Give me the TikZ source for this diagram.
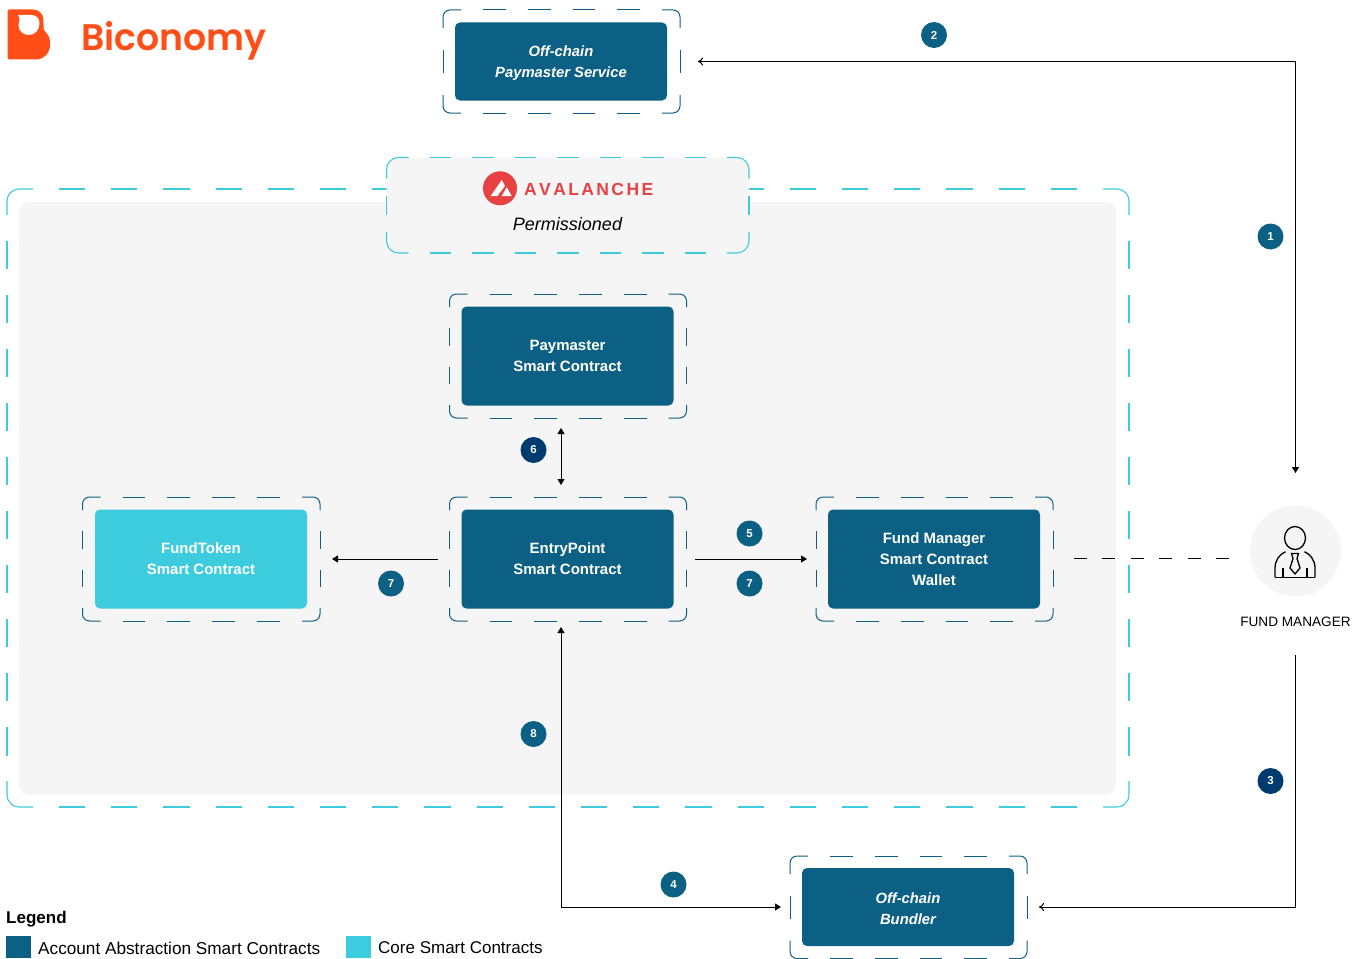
\documentclass[tikz,border=0pt]{standalone}
\usepackage{fontspec}
\setmainfont{Liberation Sans}
\newfontfamily\logofont{Poppins}[BoldFont=Poppins SemiBold]
\usetikzlibrary{arrows.meta}
\definecolor{deep}{HTML}{0C6083}
\definecolor{cyanbox}{HTML}{3DCCDD}
\definecolor{navy}{HTML}{003B6F}
\definecolor{panel}{HTML}{F5F5F5}
\definecolor{bico}{HTML}{FF4E17}
\definecolor{ava}{HTML}{E84142}
\tikzset{
 x=1pt,y=-1pt,
 box/.style={rounded corners=5pt,draw=none,text=white,align=center,font=\fontsize{15pt}{21pt}\selectfont\bfseries,inner sep=0},
 ibox/.style={box,font=\fontsize{14.8pt}{21pt}\selectfont\bfseries\itshape},
 conn/.style={black,line width=1pt,-{Triangle[length=6pt,width=7pt]}},
 conn2/.style={black,line width=1pt,{Triangle[length=6pt,width=7pt]}-{Triangle[length=6pt,width=7pt]}},
 openconn/.style={black,line width=1pt,-{To[length=5pt,width=8pt]}},
 badge/.style={circle,minimum size=26pt,inner sep=0,text=white,font=\fontsize{11.5pt}{12pt}\selectfont\bfseries},
 lbl/.style={font=\fontsize{17pt}{18pt}\selectfont,anchor=west,inner sep=0},
}
\newcommand{\dfside}[7]{%
 \pgfmathsetmacro\dfL{veclen(#3-#1,#4-#2)}%
 \pgfmathsetmacro\dfux{(#3-#1)/\dfL}%
 \pgfmathsetmacro\dfuy{(#4-#2)/\dfL}%
 \pgfmathsetmacro\dfD{(\dfL-2*#5-(#6+1)*#7)/#6}%
 \draw[dash pattern=on \dfD pt off #7 pt] ({#1+(#5+#7)*\dfux},{#2+(#5+#7)*\dfuy}) -- ({#3-(#5+#7)*\dfux},{#4-(#5+#7)*\dfuy});}
\def\setp#1#2#3#4#5#6#7{\def\frr{#1}\def\fcH{#2}\def\fnH{#3}\def\fgH{#4}\def\fcV{#5}\def\fnV{#6}\def\fgV{#7}}
\newcommand{\dframe}[4]{%
 \draw[rounded corners=\frr pt] (#1,#2+\fcV) -- (#1,#2) -- (#1+\fcH,#2);
 \draw[rounded corners=\frr pt] (#3-\fcH,#2) -- (#3,#2) -- (#3,#2+\fcV);
 \draw[rounded corners=\frr pt] (#3,#4-\fcV) -- (#3,#4) -- (#3-\fcH,#4);
 \draw[rounded corners=\frr pt] (#1+\fcH,#4) -- (#1,#4) -- (#1,#4-\fcV);
 \dfside{#1}{#2}{#3}{#2}{\fcH}{\fnH}{\fgH}
 \dfside{#1}{#4}{#3}{#4}{\fcH}{\fnH}{\fgH}
 \dfside{#1}{#2}{#1}{#4}{\fcV}{\fnV}{\fgV}
 \dfside{#3}{#2}{#3}{#4}{\fcV}{\fnV}{\fgV}}
\begin{document}
\begin{tikzpicture}
\useasboundingbox (0,0) rectangle (1364,958);
% main panel
\fill[panel,rounded corners=10pt] (19,202) rectangle (1116,795);
\begin{scope}[draw=cyanbox,line width=1.1pt]
\setp{12}{26}{20}{26}{26}{10}{25.5}
\dframe{7}{189}{1129}{807}
\fill[panel,rounded corners=12pt] (386.5,157.5) rectangle (749,253);
\setp{12}{22}{7}{21}{21}{1}{17}
\dframe{386.5}{157.5}{749}{253}
\end{scope}
% dashed frames
\begin{scope}[draw=deep,line width=1pt]
\setp{7}{18}{4}{22}{18}{1}{22}
\dframe{443}{10}{680}{113}
\dframe{790}{856}{1027}{958.5}
\setp{7}{18}{4}{22}{13}{2}{21}
\dframe{449.5}{294}{686.5}{418}
\dframe{82.5}{497}{320}{621}
\dframe{449.5}{497}{686.5}{621}
\dframe{816}{497}{1053}{621}
\end{scope}
% boxes
\node[ibox,fill=deep,minimum width=212pt,minimum height=78pt] (svc) at (561,61.5) {\rule{0pt}{14pt}Off-chain\\Paymaster Service};
\node[box,fill=deep,minimum width=212pt,minimum height=99pt] (pm) at (567.5,356) {Paymaster\hspace{4pt}\\Smart Contract};
\node[box,fill=cyanbox,minimum width=212pt,minimum height=99pt] (ft) at (201,559) {FundToken\\Smart Contract};
\node[box,fill=deep,minimum width=212pt,minimum height=99pt] (ep) at (567.5,559) {EntryPoint\hspace{4pt}\\Smart Contract};
\node[box,fill=deep,minimum width=212pt,minimum height=99pt] (fm) at (934,559) {Fund Manager\hspace{4pt}\\Smart Contract\hspace{4pt}\\Wallet};
\node[ibox,fill=deep,minimum width=212pt,minimum height=78pt] (bd) at (908,907) {\rule{0pt}{14pt}Off-chain\\Bundler};
% Fund manager
\node[circle,fill=panel,minimum size=91pt,inner sep=0] (mgr) at (1295.5,551) {};
\node[font=\fontsize{13.6pt}{14pt}\selectfont,inner sep=0] (mgrl) at (1295.5,622) {FUND MANAGER};
\begin{scope}[shift={(1295,551)},line width=1.3pt,black]
\draw (0,-13) ellipse (10.5pt and 11.5pt);
\draw (-20,26.3) -- (-20,17) .. controls (-20,9) and (-15,3) .. (-9.5,0.7);
\draw (20,26.3) -- (20,17) .. controls (20,9) and (15,3) .. (9.5,0.7);
\draw (-20,26.3) -- (20,26.3);
\draw (-12,26.3) -- (-12,17) (12,26.3) -- (12,17);
\draw[line join=miter] (-3.5,2.5) -- (3.5,2.5) -- (2,7.5) -- (5,17) -- (0,23) -- (-5,17) -- (-2,7.5) -- cycle;
\end{scope}
% connectors
\coordinate (p2s) at (1295.5,61.5);
\coordinate (svcr) at (698,61.5);
\coordinate (mgrt) at (1295.5,473);
\coordinate (mgrb) at (1295.5,655);
\coordinate (bdr) at (1039,907);
\coordinate (bdl) at (781,907);
\coordinate (corner3) at (1295.5,907);
\coordinate (corner4) at (561,907);
\coordinate (ept) at (561,428);
\coordinate (epm) at (561,485);
\coordinate (epb) at (561,627);
\coordinate (ftr) at (332,559);
\coordinate (epl) at (438,559);
\coordinate (epr) at (695,559);
\coordinate (fml) at (807,559);
\coordinate (fmr) at (1074,558);
\coordinate (mgrl2) at (1229.5,558);
\draw[openconn] (p2s) -- (svcr);
\draw[conn] (p2s) -- (mgrt);
\draw[openconn] (mgrb) -- (corner3) -- (bdr);
\draw[conn2] (epb) -- (corner4) -- (bdl);
\draw[conn2] (ept) -- (epm);
\draw[conn] (epl) -- (ftr);
\draw[conn] (epr) -- (fml);
\draw[black,line width=1pt,dash pattern=on 13pt off 15.4pt] (fmr) -- (mgrl2);
% badges
\node[badge,fill=deep] (b2) at (934,35) {2};
\node[badge,fill=deep] (b1) at (1270.5,236.5) {1};
\node[badge,fill=navy] (b3) at (1270.5,781) {3};
\node[badge,fill=deep] (b4) at (673.5,884.5) {4};
\node[badge,fill=deep] (b5) at (749.5,533.5) {5};
\node[badge,fill=navy] (b6) at (533.5,450) {6};
\node[badge,fill=deep] (b7a) at (391,583.5) {7};
\node[badge,fill=deep] (b7b) at (749.5,583.5) {7};
\node[badge,fill=deep] (b8) at (533.5,734) {8};
% Avalanche
\node[circle,fill=ava,minimum size=34pt,inner sep=0] (avc) at (500,188.3) {};
\fill[white] (501.7,180) -- (505,186) -- (497.3,196) -- (490.7,196) -- cycle;
\fill[white] (506.7,187.3) -- (511.7,196) -- (501.7,196) -- cycle;
\node[text=ava,font=\fontsize{17.5pt}{18pt}\selectfont\bfseries,inner sep=0,anchor=west] (avt) at (524,189) {A\hspace{2.4pt}V\hspace{2.4pt}A\hspace{2.4pt}L\hspace{2.4pt}A\hspace{2.4pt}N\hspace{2.4pt}C\hspace{2.4pt}H\hspace{2.4pt}E};
\node[font=\fontsize{18pt}{20pt}\selectfont\itshape,inner sep=0] (perm) at (567.5,224) {Permissioned};
% Biconomy
\fill[bico,rounded corners=2pt] (7.5,9.5) -- (31,9.5) .. controls (39,9.5) and (43,14) .. (43.5,21) -- (43.5,27) .. controls (43.5,30) and (45,31) .. (46,33) .. controls (49,36) and (50,39) .. (50,43) .. controls (50,53) and (44,59.5) .. (34,59.5) -- (7.5,59.5) -- cycle;
\fill[white] (18,15) -- (31,15) .. controls (36,15) and (39.5,18) .. (39.5,23) .. controls (39.5,30) and (35,35) .. (29,35) .. controls (23,35) and (19,31) .. (18.5,26) .. controls (18.5,22) and (21,19) .. (18,15) -- cycle;
\node[text=bico,font=\fontsize{37pt}{40pt}\selectfont\logofont\bfseries,inner sep=0,anchor=base west,xscale=.98] (bico) at (81,50.5) {Biconomy};
% Legend
\node[font=\fontsize{17pt}{18pt}\selectfont\bfseries,inner sep=0,anchor=base west] (leg) at (6,923.5) {Legend};
\fill[deep] (6,936) rectangle (31,958);
\node[lbl,font=\fontsize{17.2pt}{18pt}\selectfont] (l1) at (38,948) {Account Abstraction Smart Contracts};
\fill[cyanbox] (346,936) rectangle (371,958);
\node[lbl] (l2) at (378,948) {Core Smart Contracts};
\end{tikzpicture}
\end{document}
